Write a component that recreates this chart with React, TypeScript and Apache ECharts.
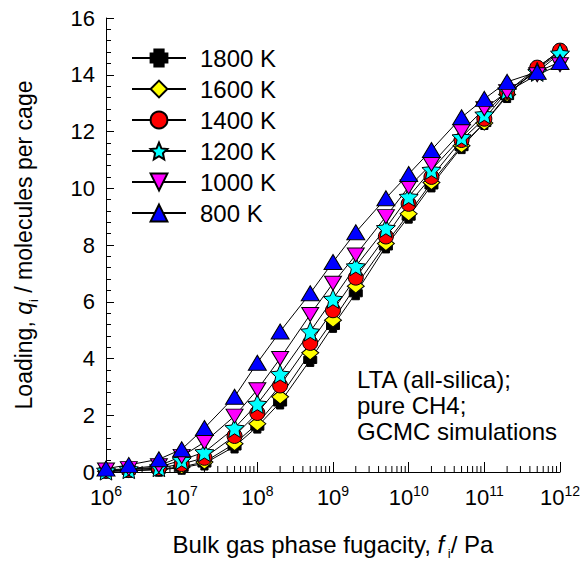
import { useEffect, useRef } from "react";
import * as echarts from "echarts";

// Bulk gas phase fugacity, Pa
const fugacity = [
  1e6, 2e6, 5e6, 1e7, 2e7, 5e7, 1e8, 2e8, 5e8, 1e9, 2e9, 5e9, 1e10, 2e10, 5e10,
  1e11, 2e11, 5e11, 1e12,
];

// Loading, molecules per cage, one array per temperature
const load1800 = [0.02, 0.04, 0.08, 0.15, 0.3, 0.9, 1.6, 2.45, 3.95, 5.15, 6.3, 7.95, 9.0, 10.1, 11.45, 12.3, 13.25, 14.25, 14.85];
const load1600 = [0.03, 0.05, 0.1, 0.18, 0.35, 1.0, 1.7, 2.65, 4.2, 5.35, 6.55, 8.05, 9.1, 10.2, 11.5, 12.3, 13.3, 14.2, 14.8];
const load1400 = [0.04, 0.08, 0.14, 0.28, 0.5, 1.27, 2.08, 3.05, 4.55, 5.7, 6.85, 8.3, 9.45, 10.4, 11.7, 12.45, 13.4, 14.25, 14.85];
const load1200 = [0.05, 0.1, 0.17, 0.42, 0.7, 1.55, 2.4, 3.45, 4.95, 6.1, 7.25, 8.6, 9.7, 10.65, 11.8, 12.6, 13.45, 14.1, 14.75];
const load1000 = [0.07, 0.12, 0.22, 0.55, 1.05, 1.97, 2.9, 4.0, 5.55, 6.65, 7.65, 9.0, 10.05, 10.85, 12.0, 12.8, 13.4, 14.0, 14.35];
const load800 = [0.12, 0.25, 0.45, 0.8, 1.55, 2.65, 3.85, 4.95, 6.3, 7.4, 8.45, 9.65, 10.5, 11.35, 12.5, 13.15, 13.75, 14.1, 14.45];

const seriesNames = ["1800 K", "1600 K", "1400 K", "1200 K", "1000 K", "800 K"];

// Decades spanned by the x axis and the mantissas of its minor ticks
const decadeExponents = [6, 7, 8, 9, 10, 11];
const minorMantissas = [2, 3, 4, 5, 6, 7, 8, 9];

const FONT = "'Liberation Sans', Arial, Helvetica, sans-serif";

const STAR =
  "path://M0,-100 L27.5,-37.8 L95.1,-30.9 L44.5,14.5 L58.8,80.9 L0,46 L-58.8,80.9 L-44.5,14.5 L-95.1,-30.9 L-27.5,-37.8 Z";
const FAT_PLUS =
  "path://M-55,-100 L55,-100 L55,-55 L100,-55 L100,55 L55,55 L55,100 L-55,100 L-55,55 L-100,55 L-100,-55 L-55,-55 Z";

type MarkerStyle = {
  symbol: string;
  size: number | number[];
  rotate?: number;
  color: string;
};

const markers: MarkerStyle[] = [
  { symbol: FAT_PLUS, size: 13, color: "#000000" },
  { symbol: "diamond", size: [17, 14], color: "#ffff00" },
  { symbol: "circle", size: 15, color: "#ff0000" },
  { symbol: STAR, size: 19, color: "#00ffff" },
  { symbol: "triangle", size: [17, 14], rotate: 180, color: "#ff00ff" },
  { symbol: "triangle", size: [18, 15], color: "#0000ff" },
];

const loads = [load1800, load1600, load1400, load1200, load1000, load800];

const titleRich = (size: number) => ({
  n: { fontSize: size, fontFamily: FONT, fill: "#000", lineHeight: size + 4, verticalAlign: "top" },
  it: { fontSize: size, fontFamily: FONT, fontStyle: "italic", fill: "#000", lineHeight: size + 4, verticalAlign: "top" },
  sub: { fontSize: 13, fontFamily: FONT, fill: "#000", lineHeight: 13, verticalAlign: "bottom" },
});

export default function App() {
  const ref = useRef<HTMLDivElement>(null);

  useEffect(() => {
    if (!ref.current) return;
    const chart = echarts.init(ref.current, undefined, { renderer: "svg" });

    const minorTicks: number[][] = [];
    decadeExponents.forEach((e) =>
      minorMantissas.forEach((m) => minorTicks.push([m * Math.pow(10, e), 0]))
    );

    const lineSeries = seriesNames.map((name, k) => ({
      name,
      type: "line",
      data: fugacity.map((f, i) => [f, loads[k][i]]),
      symbol: markers[k].symbol,
      symbolSize: markers[k].size,
      symbolRotate: markers[k].rotate ?? 0,
      showAllSymbol: true,
      itemStyle: { color: markers[k].color, borderColor: "#000", borderWidth: 1 },
      lineStyle: { color: "#000", width: 1 },
      emphasis: { disabled: true },
      z: 3,
    }));

    const option = {
      animation: false,
      textStyle: { fontFamily: FONT },
      grid: { left: 106, right: 27, top: 18, bottom: 93, containLabel: false },
      xAxis: {
        type: "log",
        logBase: 10,
        min: 1e6,
        max: 1e12,
        splitNumber: 6,
        axisLine: { lineStyle: { color: "#000", width: 1 } },
        axisTick: { inside: true, length: 10, lineStyle: { color: "#000", width: 1 } },
        minorTick: { show: false },
        splitLine: { show: false },
        axisLabel: {
          margin: 12,
          color: "#000",
          formatter: (v: number) => `{b|10}{s|${Math.round(Math.log10(v))}}`,
          rich: {
            b: { fontSize: 22, fontFamily: FONT, color: "#000", lineHeight: 24, verticalAlign: "bottom" },
            s: { fontSize: 14, fontFamily: FONT, color: "#000", lineHeight: 12, verticalAlign: "top" },
          },
        },
      },
      yAxis: {
        type: "value",
        min: 0,
        max: 16,
        interval: 2,
        axisLine: { show: true, lineStyle: { color: "#000", width: 1 } },
        axisTick: { show: true, inside: true, length: 8, lineStyle: { color: "#000", width: 1 } },
        minorTick: { show: true, splitNumber: 5, length: 5, lineStyle: { color: "#000", width: 1 } },
        splitLine: { show: false },
        axisLabel: { fontSize: 22, color: "#000", margin: 11, fontFamily: FONT },
      },
      legend: {
        data: seriesNames,
        orient: "vertical",
        left: 126,
        top: 41,
        itemWidth: 54,
        itemHeight: 21,
        itemGap: 7,
        selectedMode: false,
        textStyle: { fontSize: 24, lineHeight: 22, color: "#000", fontFamily: FONT, padding: [0, 0, 0, 9] },
      },
      series: [
        {
          name: "minor ticks",
          type: "custom",
          silent: true,
          clip: false,
          z: 2,
          data: minorTicks,
          renderItem: (_params: any, api: any) => {
            const p = api.coord([api.value(0), 0]);
            return {
              type: "line",
              shape: { x1: p[0], y1: p[1], x2: p[0], y2: p[1] - 6 },
              style: { stroke: "#000", lineWidth: 1 },
            };
          },
        },
        ...lineSeries,
      ],
      graphic: [
        {
          type: "text",
          left: 357,
          top: 366,
          style: {
            text: "LTA (all-silica);\npure CH4;\nGCMC simulations",
            fontSize: 24,
            fontFamily: FONT,
            fill: "#000",
            lineHeight: 26,
          },
        },
        {
          type: "text",
          x: 26,
          y: 245,
          rotation: Math.PI / 2,
          style: {
            text: "{n|Loading, }{it|q}{sub|i}{n| / molecules per cage}",
            align: "center",
            verticalAlign: "middle",
            rich: titleRich(23),
          },
        },
        {
          type: "text",
          x: 333,
          y: 546,
          style: {
            text: "{n|Bulk gas phase fugacity, }{it|f}{sub| i}{n|/ Pa}",
            align: "center",
            verticalAlign: "middle",
            rich: titleRich(24),
          },
        },
      ],
    };

    chart.setOption(option as any);
    return () => chart.dispose();
  }, []);

  return (
    <div
      ref={ref}
      style={{ position: "fixed", left: 0, top: 0, width: 587, height: 565, background: "#fff" }}
    />
  );
}
